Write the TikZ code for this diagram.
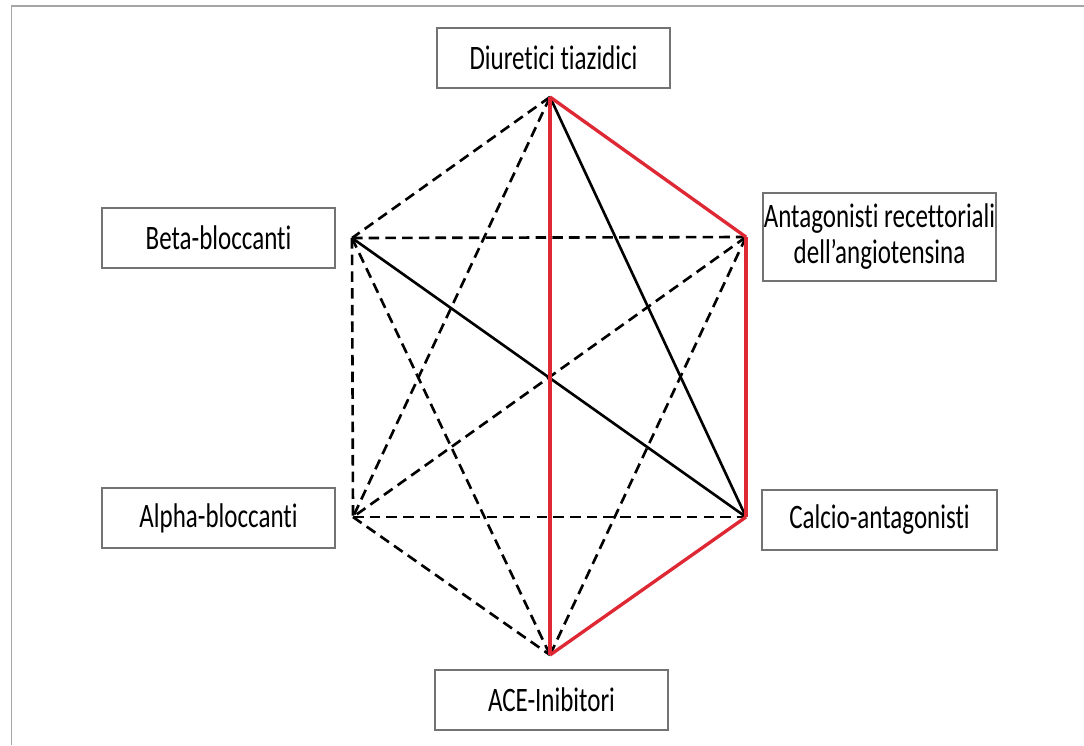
\documentclass[tikz,border=0pt]{standalone}
\usepackage{fontspec}
\setmainfont[FakeStretch=0.73, Ligatures=NoCommon]{Carlito}
\usetikzlibrary{positioning}
\definecolor{framegray}{RGB}{165,165,165}
\definecolor{boxline}{RGB}{115,115,115}
\definecolor{combo}{RGB}{222,40,52}
\tikzset{
  drugbox/.style={rectangle, draw=boxline, line width=1pt,
                  minimum width=4.66cm, minimum height=1.2cm,
                  align=center, inner sep=0pt, font=\fontsize{19.5}{20.5}\selectfont},
  weak/.style={line width=1.5pt, dash pattern=on 6pt off 3.5pt},
  strong/.style={line width=1.5pt},
  best/.style={line width=1.9pt, draw=combo},
}
\begin{document}
\begin{tikzpicture}[x=0.02cm, y=-0.02cm]
    \useasboundingbox (0,0) rectangle (1084,745);
    % cropped frame
    \draw[framegray, line width=1.1pt] (11.5,745) -- (11.5,6) -- (1084,6);

    % drug classes
    \node[drugbox] (diur)  at (553.5,58)  {Diuretici tiazidici};
    \node[drugbox] (beta)  at (218.5,238) {Beta-bloccanti};
    \node[drugbox, minimum height=1.76cm] (arb) at (879.5,237)
         {Antagonisti recettoriali\\dell'angiotensina};
    \node[drugbox] (alpha) at (218.5,518) {Alpha-bloccanti};
    \node[drugbox, minimum width=4.7cm] (calc) at (879.5,520) {Calcio-antagonisti};
    \node[drugbox] (ace)   at (551.5,700) {ACE-Inibitori};

    % hexagon corners
    \coordinate (pD) at (550,97);
    \coordinate (pR) at (746,237);
    \coordinate (pC) at (746,517);
    \coordinate (pA) at (550,655);
    \coordinate (pL) at (353,517);
    \coordinate (pB) at (352,238);

    % weaker combinations
    \draw[weak] (pD)--(pB); \draw[weak] (pD)--(pL);
    \draw[weak] (pB)--(pR); \draw[weak] (pB)--(pL);
    \draw[weak] (pB)--(pA); \draw[weak] (pR)--(pL);
    \draw[weak] (pR)--(pA); \draw[weak] (pL)--(pC);
    \draw[weak] (pL)--(pA);
    % possible combinations
    \draw[strong] (pD)--(pC); \draw[strong] (pB)--(pC);
    % preferred combinations
    \draw[best] (pD)--(pA); \draw[best] (pD)--(pR);
    \draw[best] (pR)--(pC); \draw[best] (pC)--(pA);
\end{tikzpicture}
\end{document}
